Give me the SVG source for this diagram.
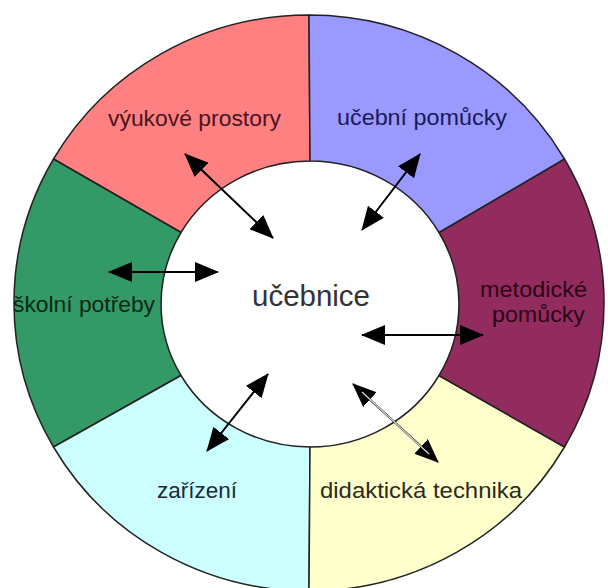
<svg xmlns="http://www.w3.org/2000/svg" width="608" height="588" viewBox="0 0 608 588">
  <defs>
    <style>
      .seg { stroke: #222; stroke-width: 1.5; stroke-linejoin: round; }
      .lbl { font-family: "Liberation Sans", Arial, sans-serif; font-size: 22px; }
      .arr { stroke: #000; stroke-width: 2; fill: none; marker-start: url(#ah); marker-end: url(#ah); }
    </style>
    <marker id="ah" viewBox="0 0 24 20" refX="23" refY="10" markerWidth="24" markerHeight="20" markerUnits="userSpaceOnUse" orient="auto-start-reverse">
      <path d="M0,0 L24,10 L0,20 Z" fill="#000"/>
    </marker>
  </defs>
  <rect width="608" height="588" fill="#fff"/>

  <g id="vyukove-prostory">
    <path class="seg" fill="#FF8080" d="M309,15 A295,288 0 0 0 53.5,159 L181,232.5 A149,143 0 0 1 310,161 Z"/>
    <text class="lbl" x="108" y="126" fill="#4a1420" textLength="173" lengthAdjust="spacingAndGlyphs">výukové prostory</text>
  </g>
  <g id="skolni-potreby">
    <path class="seg" fill="#339966" d="M53.5,159 A295,288 0 0 0 53.5,447 L181,375.5 A149,143 0 0 1 181,232.5 Z"/>
    <text class="lbl" x="13" y="312" fill="#0a2a15" textLength="142" lengthAdjust="spacingAndGlyphs">školní potřeby</text>
  </g>
  <g id="zarizeni">
    <path class="seg" fill="#CCFFFF" d="M53.5,447 A295,288 0 0 0 309,591 L310,447 A149,143 0 0 1 181,375.5 Z"/>
    <text class="lbl" x="157" y="498" fill="#1a2a3a" textLength="80" lengthAdjust="spacingAndGlyphs">zařízení</text>
  </g>
  <g id="didakticka-technika">
    <path class="seg" fill="#FFFFCC" d="M309,591 A295,288 0 0 0 564.5,447 L439,375.5 A149,143 0 0 1 310,447 Z"/>
    <text class="lbl" x="320" y="498" fill="#2a2a22" textLength="202" lengthAdjust="spacingAndGlyphs">didaktická technika</text>
  </g>
  <g id="metodicke-pomucky">
    <path class="seg" fill="#932c5e" d="M564.5,447 A295,288 0 0 0 564.5,159 L439,232.5 A149,143 0 0 1 439,375.5 Z"/>
    <text class="lbl" x="480" y="297" fill="#2a0515" textLength="107" lengthAdjust="spacingAndGlyphs">metodické</text>
    <text class="lbl" x="492" y="322" fill="#2a0515" textLength="93" lengthAdjust="spacingAndGlyphs">pomůcky</text>
  </g>
  <g id="ucebni-pomucky">
    <path class="seg" fill="#9999FF" d="M564.5,159 A295,288 0 0 0 309,15 L310,161 A149,143 0 0 1 439,232.5 Z"/>
    <text class="lbl" x="337" y="125" fill="#1a1a5a" textLength="170" lengthAdjust="spacingAndGlyphs">učební pomůcky</text>
  </g>
  <g id="ucebnice">
    <text x="252" y="306" font-family="Liberation Sans, Arial, sans-serif" font-size="29" fill="#333" textLength="118" lengthAdjust="spacingAndGlyphs">učebnice</text>
  </g>

  <g id="connectors">
    <line class="arr" x1="185" y1="154" x2="273" y2="238"/>
    <line class="arr" x1="420" y1="154" x2="362" y2="230"/>
    <line class="arr" x1="109" y1="272" x2="218" y2="272"/>
    <line class="arr" x1="362" y1="335" x2="483" y2="335"/>
    <line class="arr" x1="268" y1="374" x2="207" y2="451"/>
    <line class="arr" stroke="#555" stroke-width="4" x1="353" y1="384" x2="438" y2="462"/>
    <line x1="362" y1="392" x2="429" y2="454" stroke="#ddd" stroke-width="1.2"/>
  </g>
</svg>
